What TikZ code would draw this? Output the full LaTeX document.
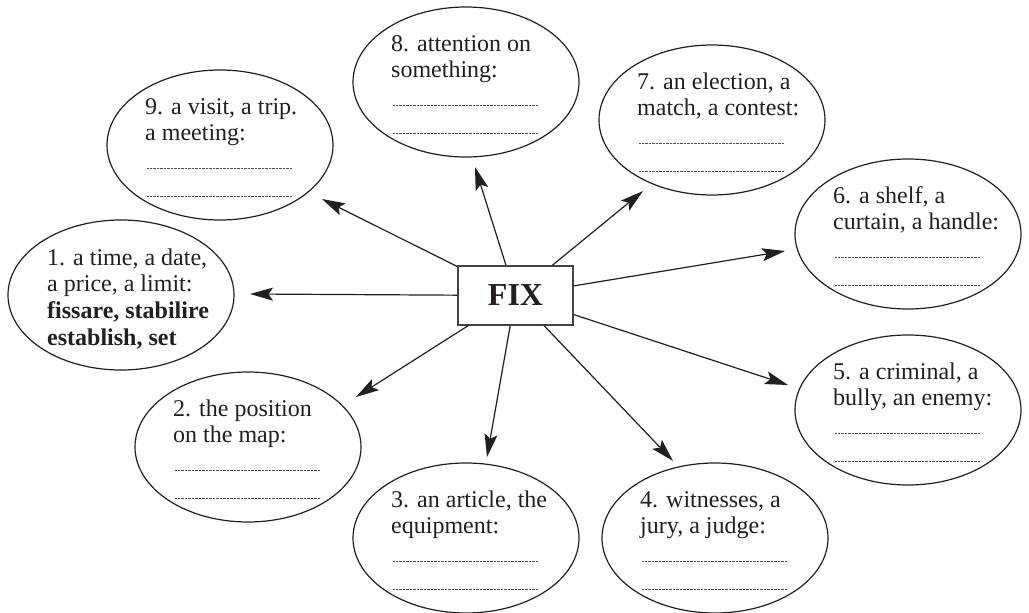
\documentclass[tikz,border=0pt]{standalone}
\usepackage{fontspec}
\setmainfont{Liberation Serif}
\usetikzlibrary{shapes.geometric,arrows.meta,calc}
\definecolor{ink}{RGB}{35,31,32}
\tikzset{
 bubble/.style={ellipse, draw=ink, line width=1.2pt, minimum width=226pt, minimum height=150pt, inner sep=0pt},
 lab/.style={anchor=base west, inner sep=0pt, text=ink, font=\fontsize{24}{27}\selectfont},
 blank/.style={draw=ink!80, line width=0.6pt, dash pattern=on 0.5pt off 0.9pt},
 arr/.style={draw=ink, line width=1.2pt, -{Stealth[length=23pt,width=13pt,inset=4.5pt]}},
 fixbox/.style={draw=ink!85, line width=1.4pt, fill=white, minimum width=115pt, minimum height=59pt, inner sep=0pt, text=ink, font=\bfseries\fontsize{32}{32}\selectfont}
}
\newcommand\mybubble[5]{%
 \node[bubble] (#1) at (#2,#3) {};
 \node[lab] (#1a) at ($(#1)+(-75,-31)$) {#4};
 \node[lab] (#1b) at ($(#1)+(-75,-4.5)$) {#5};
 \draw[blank] ($(#1)+(-73,23)$) -- ($(#1)+(72,23)$);
 \draw[blank] ($(#1)+(-73,51)$) -- ($(#1)+(72,51)$);
}
\begin{document}
\begin{tikzpicture}[x=1pt,y=-1pt]
\useasboundingbox (0,0) rectangle (1029,613);
\fill[white] (0,0) rectangle (1029,613);
\node[fixbox] (fix) at (515.5,295.5) {FIX};
% bubble 1
\node[bubble] (e1) at (121,295) {};
\node[lab] (e1a) at ($(e1)+(-74,-30)$) {1. a time, a date,};
\node[lab] (e1b) at ($(e1)+(-74,-4)$) {a price, a limit:};
\node[lab,font=\bfseries\fontsize{24}{27}\selectfont] (e1c) at ($(e1)+(-74,23)$) {fissare, stabilire};
\node[lab,font=\bfseries\fontsize{24}{27}\selectfont] (e1d) at ($(e1)+(-74,50)$) {establish, set};
\mybubble{e9}{220}{145}{9. a visit, a trip.}{a meeting:}
\mybubble{e8}{466}{82}{8. attention on}{something:}
\mybubble{e7}{712}{120}{7. an election, a}{match, a contest:}
\mybubble{e6}{908}{234}{6. a shelf, a}{curtain, a handle:}
\mybubble{e5}{908}{410}{5. a criminal, a}{bully, an enemy:}
\mybubble{e4}{715}{538}{4. witnesses, a}{jury, a judge:}
\mybubble{e3}{466}{538}{3. an article, the}{equipment:}
\mybubble{e2}{248}{447}{2. the position}{on the map:}
% arrow tips
\coordinate (t1) at (250,294);
\coordinate (t2) at (356,397);
\coordinate (t3) at (487,457);
\coordinate (t4) at (673,461);
\coordinate (t5) at (788,385);
\coordinate (t6) at (785,251);
\coordinate (t7) at (643,191);
\coordinate (t8) at (475,167);
\coordinate (t9) at (322,199);
\foreach \t in {t1,t2,t3,t4,t5,t6,t7,t8,t9}{\draw[arr] (fix) -- (\t);}
\end{tikzpicture}
\end{document}
